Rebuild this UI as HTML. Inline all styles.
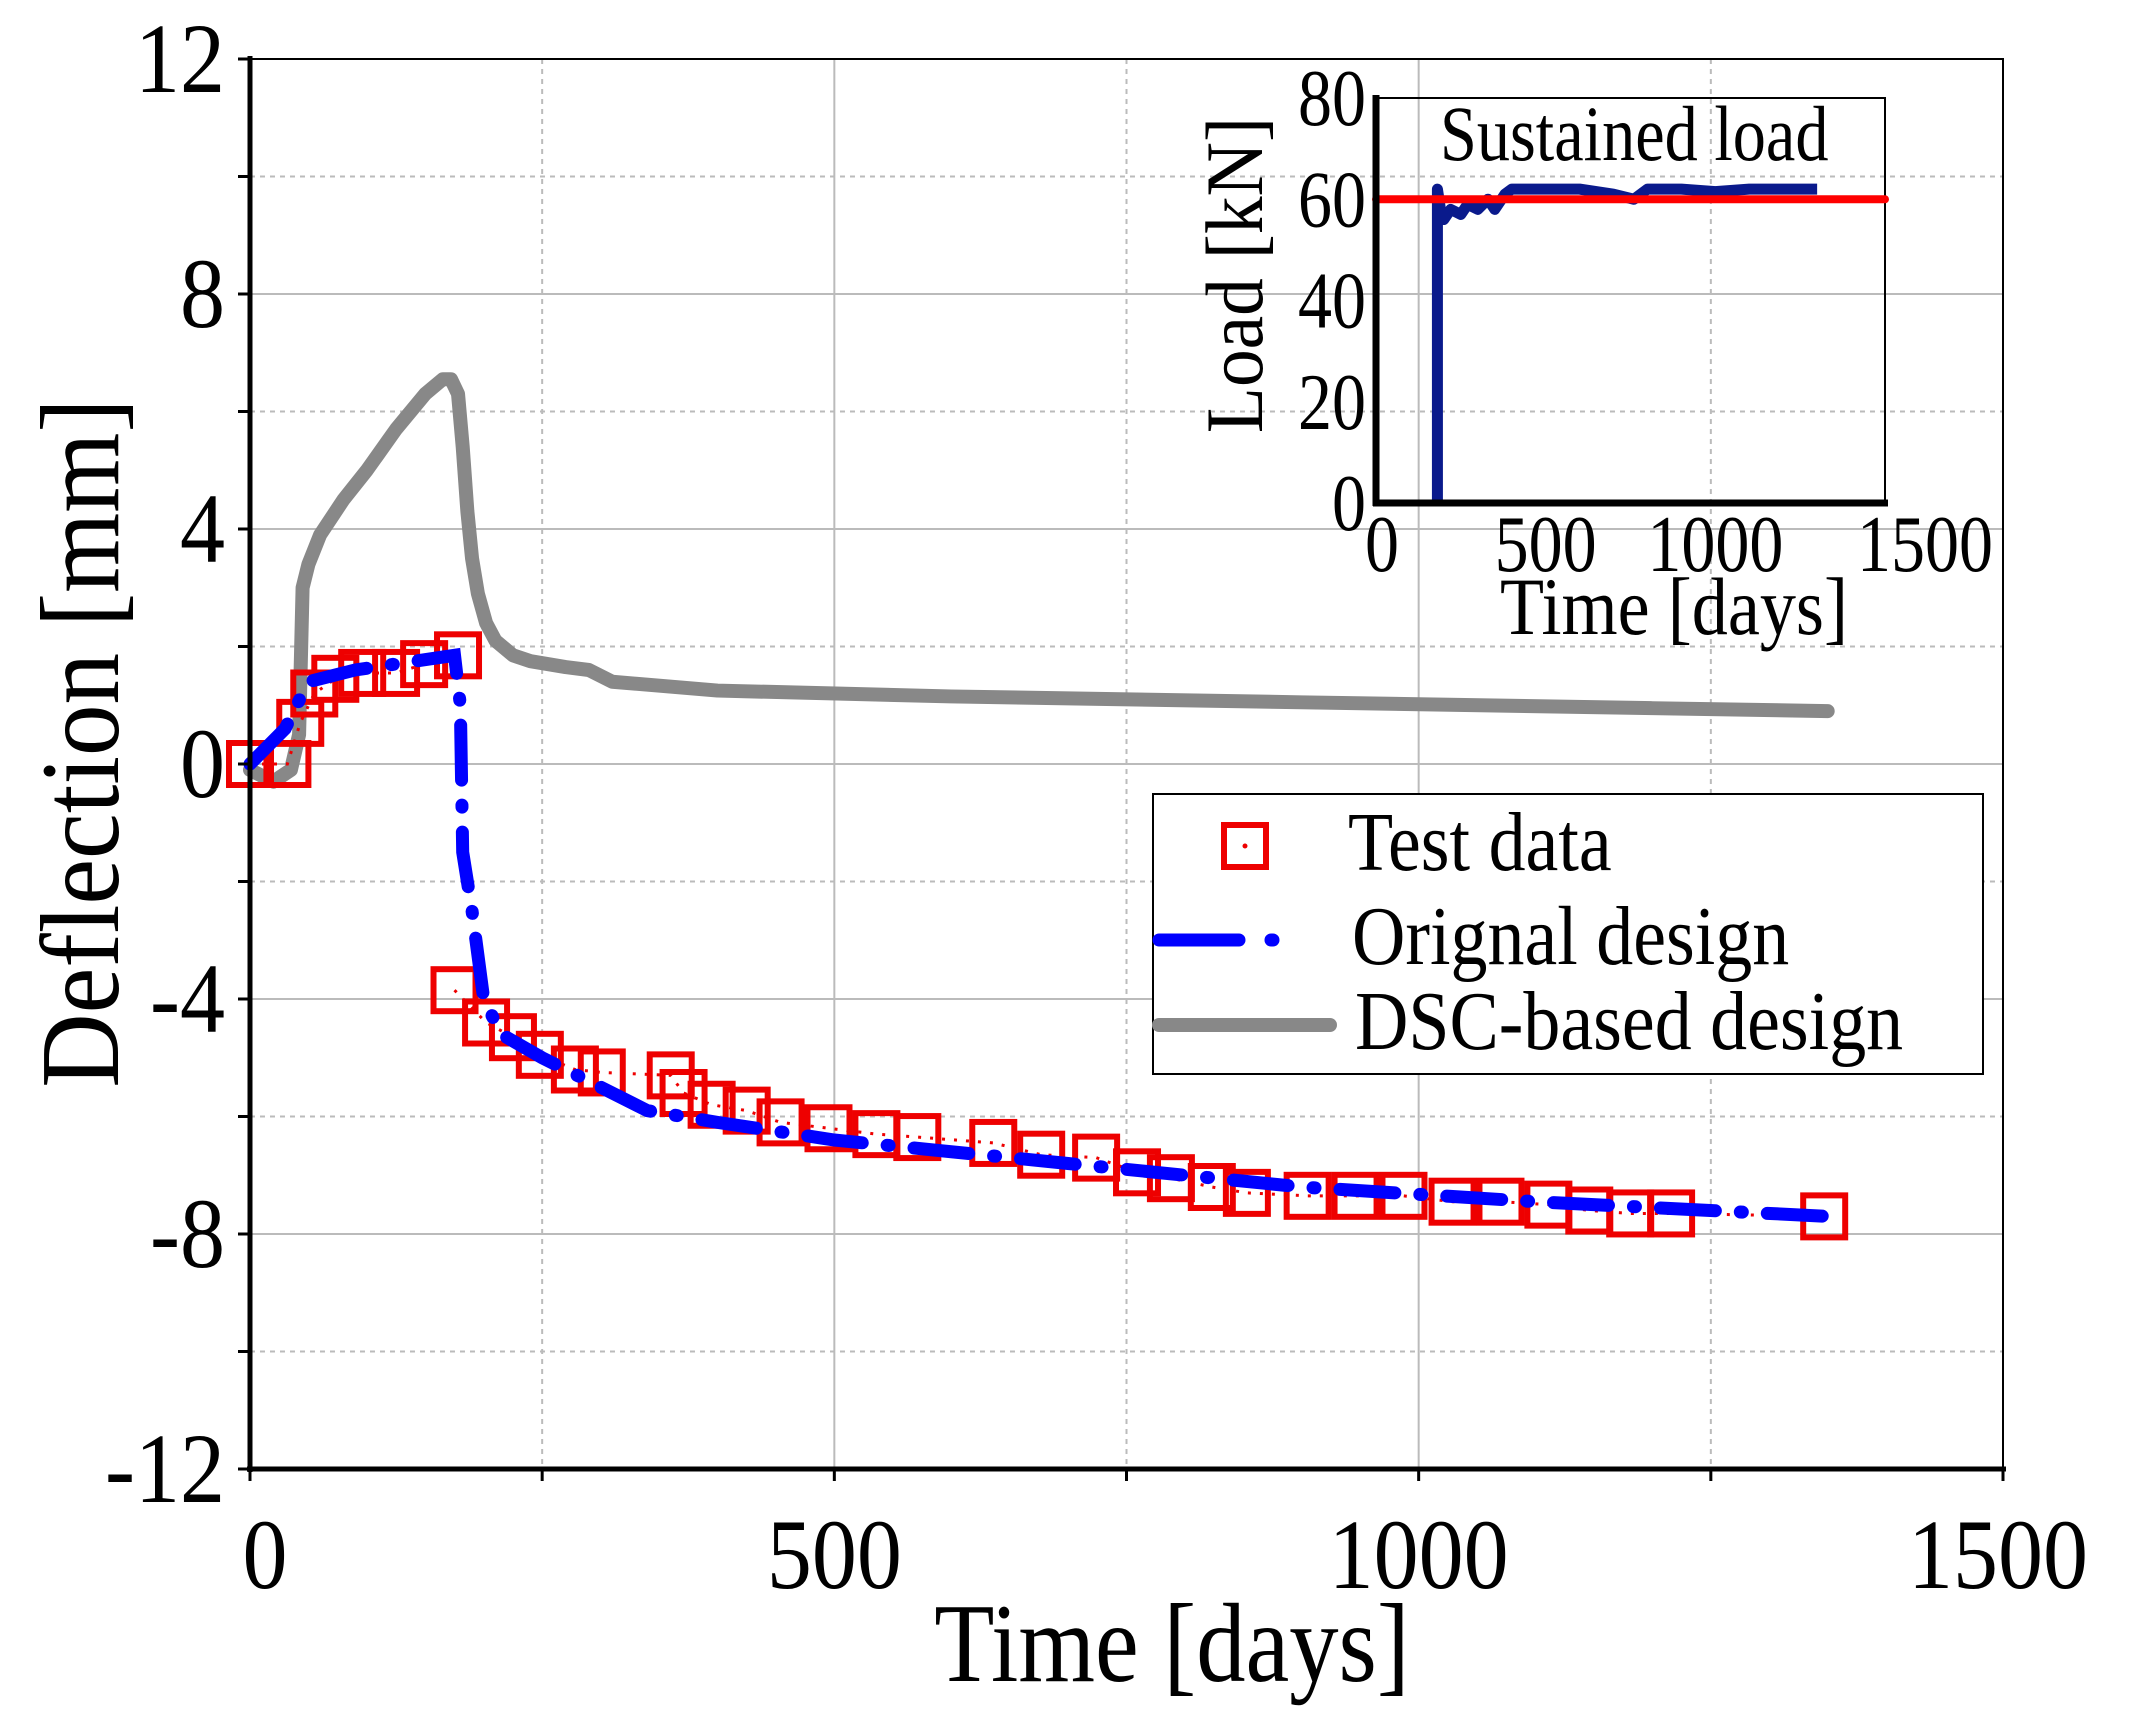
<!DOCTYPE html>
<html><head><meta charset="utf-8"><style>
html,body{margin:0;padding:0;background:#fff}
svg{display:block}
text{font-family:"Liberation Serif",serif;fill:#000}
</style></head><body>
<svg id="chart" width="2146" height="1735" viewBox="0 0 2146 1735" xmlns="http://www.w3.org/2000/svg">
<g id="grid"></g>
<g id="series"></g>
<g id="axes"></g>
<g id="inset"></g>
<g id="legend"></g>
</svg>
<script>
// ---- main chart data ----
const testDays = [0,32,43,55,73,96,125,149,178,175,202,225,248,278,301,360,371,395,425,454,495,536,571,636,677,724,759,788,823,853,905,946,987,1029,1070,1111,1146,1181,1216,1347];
const testDefl = [0,0,0.7,1.2,1.45,1.55,1.55,1.7,1.85,-3.85,-4.4,-4.65,-4.95,-5.2,-5.25,-5.3,-5.6,-5.8,-5.9,-6.1,-6.2,-6.3,-6.35,-6.45,-6.65,-6.7,-6.95,-7.05,-7.2,-7.3,-7.35,-7.35,-7.35,-7.45,-7.45,-7.5,-7.6,-7.65,-7.65,-7.7];
const origDays = [0,30,50,90,175,180,182,190,200,215,250,340,400,500,700,900,1100,1350];
const origDefl = [0,0.6,1.4,1.6,1.85,1.0,-1.5,-2.5,-4,-4.6,-5,-5.9,-6.1,-6.4,-6.8,-7.2,-7.45,-7.7];
const dscDays = [0,20,35,42,45,50,60,80,100,125,150,165,172,178,182,186,190,195,202,210,225,240,270,290,310,400,600,900,1200,1350];
const dscDefl = [-0.1,-0.3,-0.1,0.5,3.0,3.4,3.9,4.5,5.0,5.7,6.3,6.55,6.55,6.3,5.4,4.3,3.5,2.9,2.4,2.1,1.85,1.75,1.65,1.6,1.4,1.25,1.15,1.05,0.95,0.9];
const xTicks = [0,500,1000,1500];
const yTicks = [-12,-8,-4,0,4,8,12];
// ---- inset data ----
const loadDays = [181,181,190,200,220,250,270,300,330,350,380,400,450,500,600,700,760,800,900,1000,1100,1200,1300];
const loadVals = [0,62,58,56,58,57,59,58,60,58,61,62,62,62,62,61,60,62,62,61.5,62,62,62];
const targetDays = [0,1500];
const targetVals = [60,60];
const insetXTicks = [0,500,1000,1500];
const insetYTicks = [0,20,40,60,80];

const NS="http://www.w3.org/2000/svg";
function mk(parent,tag,attrs,txt){const e=document.createElementNS(NS,tag);for(const k in attrs)e.setAttribute(k,attrs[k]);if(txt!==undefined)e.textContent=txt;parent.appendChild(e);return e;}
function tx(parent,x,y,size,anchor,str,sx,rot){return mk(parent,'text',{x:0,y:0,'text-anchor':anchor,'font-size':size,transform:'translate('+x+','+y+')'+(rot?' rotate('+rot+')':'')+' scale('+sx+',1)'},str);}
const L=250,R=2003,T=59,B=1469;
const X=t=>L+(t/1500)*(R-L);
const Y=v=>B-((v+12)/24)*(B-T);
const grid=document.getElementById('grid'),ser=document.getElementById('series'),ax=document.getElementById('axes');

for(let t=250;t<1500;t+=250){const l=mk(grid,'line',{x1:X(t),x2:X(t),y1:T,y2:B,stroke:'#bbb','stroke-width':2,'stroke-dasharray':t%500?'5,5':'none'});

}
for(let v=-10;v<12;v+=2){const l=mk(grid,'line',{x1:L,x2:R,y1:Y(v),y2:Y(v),stroke:'#bbb','stroke-width':2,'stroke-dasharray':v%4?'5,5':'none'});

}

let p=mk(ser,'polyline',{points:dscDays.map((d,i)=>X(d)+','+Y(dscDefl[i])).join(' '),fill:'none',stroke:'#888','stroke-width':14,'stroke-linejoin':'round','stroke-linecap':'round'});


let tp=mk(ser,'polyline',{points:testDays.slice(0,9).map((d,i)=>X(d)+','+Y(testDefl[i])).join(' '),fill:'none',stroke:'#e00','stroke-width':3,'stroke-dasharray':'3,9'});


tp=mk(ser,'polyline',{points:testDays.slice(9).map((d,i)=>X(d)+','+Y(testDefl[i+9])).join(' '),fill:'none',stroke:'#e00','stroke-width':3,'stroke-dasharray':'3,9'});


testDays.forEach((d,i)=>{const s=mk(ser,'rect',{x:X(d)-21,y:Y(testDefl[i])-21,width:42,height:42,fill:'none',stroke:'#e00','stroke-width':6});

});
p=mk(ser,'polyline',{points:origDays.map((d,i)=>X(d)+','+Y(origDefl[i])).join(' '),fill:'none',stroke:'#00f','stroke-width':13,'stroke-linecap':'round','stroke-dasharray':'55,25,2,25'});



mk(ax,'rect',{x:L,y:T,width:R-L,height:B-T,fill:'none',stroke:'#000','stroke-width':2});
mk(ax,'line',{x1:L,x2:L,y1:T-3,y2:B+3,stroke:'#000','stroke-width':5});
mk(ax,'line',{x1:L-3,x2:R+3,y1:B,y2:B,stroke:'#000','stroke-width':5});
for(let v=-12;v<=12;v+=2)mk(ax,'line',{x1:L-12,x2:L,y1:Y(v),y2:Y(v),stroke:'#000','stroke-width':3});
for(let t=0;t<=1500;t+=250)mk(ax,'line',{x1:X(t),x2:X(t),y1:B,y2:B+12,stroke:'#000','stroke-width':3});
yTicks.forEach(v=>{const e=tx(ax,225,Y(v)+33,100,'end',String(v),0.9);

});
xTicks.forEach(t=>{const e=tx(ax,X(t)+(t===0?15:0)-(t===1500?5:0),1588,100,'middle',String(t),0.9);

});
let e=tx(ax,1172,1681,112,'middle','Time [days]',0.88);


e=tx(ax,118,743,112,'middle','Deflection [mm]',0.92,-90);



// inset
const ins=document.getElementById('inset');
const iL=1376,iR=1885,iT=98,iB=503;
const IX=t=>iL+(t/1500)*(iR-iL), IY=v=>iB-(v/80)*(iB-iT);
mk(ins,'rect',{x:iL,y:iT,width:iR-iL,height:iB-iT,fill:'none',stroke:'#000','stroke-width':2});
p=mk(ins,'polyline',{points:loadDays.map((d,i)=>IX(d)+','+IY(loadVals[i])).join(' '),fill:'none',stroke:'#0a1a8c','stroke-width':11,'stroke-linejoin':'round'});


p=mk(ins,'polyline',{points:targetDays.map((d,i)=>IX(d)+','+IY(targetVals[i])).join(' '),fill:'none',stroke:'#f00','stroke-width':8,'stroke-linecap':'round'});


mk(ins,'line',{x1:iL,x2:iL,y1:iT-3,y2:iB+3,stroke:'#000','stroke-width':7});
mk(ins,'line',{x1:iL-3,x2:iR+3,y1:iB,y2:iB,stroke:'#000','stroke-width':7});
insetYTicks.forEach(v=>{const t=tx(ins,1366,IY(v)+27,80,'end',String(v),0.85);

});
insetXTicks.forEach(d=>{const t=tx(ins,IX(d)+(d===0?6:0)+(d===1500?40:0),571,80,'middle',String(d),0.85);

});
e=tx(ins,1674,634,82,'middle','Time [days]',0.88);


e=tx(ins,1262,275,82,'middle','Load [kN]',0.92,-90);


e=tx(ins,1440,160,78,'start','Sustained load',0.85);



// legend
const lg=document.getElementById('legend');
mk(lg,'rect',{x:1153,y:794,width:830,height:280,fill:'#fff',stroke:'#000','stroke-width':2});
e=mk(lg,'rect',{x:1224,y:825,width:42,height:42,fill:'none',stroke:'#e00','stroke-width':6});


mk(lg,'circle',{cx:1245,cy:846,r:2.5,fill:'#e00'});
e=mk(lg,'line',{x1:1159,x2:1307,y1:940,y2:940,stroke:'#00f','stroke-width':13,'stroke-linecap':'round','stroke-dasharray':'80,32,2,50'});


e=mk(lg,'line',{x1:1159,x2:1330,y1:1025,y2:1025,stroke:'#888','stroke-width':14,'stroke-linecap':'round'});


[['Test data',1348,870,'legend-entry-test'],['Orignal design',1352,964,'legend-entry-original'],['DSC-based design',1355,1049,'legend-entry-dsc']].forEach(a=>{const t=tx(lg,a[1],a[2],84,'start',a[0],0.88);

});
</script>
</body></html>
